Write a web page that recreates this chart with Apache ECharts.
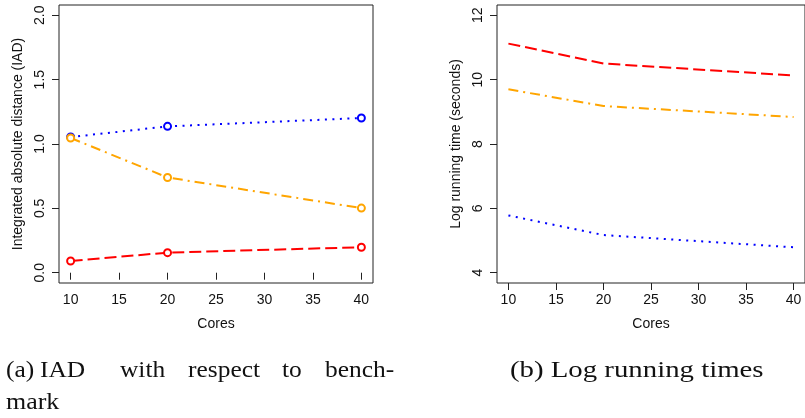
<!DOCTYPE html>
<html><head><meta charset="utf-8">
<script src="https://cdn.jsdelivr.net/npm/echarts@6/dist/echarts.min.js"></script>
<style>html,body{margin:0;padding:0;background:#fff}#c{width:805px;height:418px}</style>
</head><body><div id="c"></div>
<script>
const cores = [10, 20, 40];
const xTicks = [10, 15, 20, 25, 30, 35, 40];
const iadTicks = [0, 0.5, 1, 1.5, 2];
const logTicks = [4, 6, 8, 10, 12];
// Panel (a): IAD
const iadRed = [0.091, 0.156, 0.198];
const iadBlue = [1.054, 1.137, 1.202];
const iadOrange = [1.047, 0.740, 0.502];
// Panel (b): log running time
const timeRed = [11.12, 10.50, 10.13];
const timeBlue = [5.78, 5.17, 4.79];
const timeOrange = [9.70, 9.18, 8.84];
const captionA1 = ['(a)', 'IAD', 'with', 'respect', 'to', 'bench-'];
const captionA2 = 'mark';
const captionB = '(b) Log running times';

const RED = '#ff0000', BLUE = '#0000ff', ORANGE = '#ffa500';
const sans = 'Liberation Sans';
const pair = (xs, ys) => xs.map((x, i) => [x, ys[i]]);

function xAxisCfg(gi) {
  return {
    type: 'value', gridIndex: gi, min: 8.8, max: 41.2,
    axisLine: {show: false},
    axisTick: {show: true, length: 7, customValues: xTicks, lineStyle: {color: '#222'}},
    axisLabel: {customValues: xTicks, color: '#111', fontFamily: sans, fontSize: 14, margin: 10},
    splitLine: {show: false},
    name: 'Cores', nameLocation: 'middle', nameGap: 34,
    nameTextStyle: {color: '#111', fontFamily: sans, fontSize: 14}
  };
}
function yAxisCfg(gi, min, max, ticks, name, fmt) {
  return {
    type: 'value', gridIndex: gi, min: min, max: max,
    axisLine: {show: false},
    axisTick: {show: true, length: 7, customValues: ticks, lineStyle: {color: '#222'}},
    axisLabel: {customValues: ticks, rotate: 90, color: '#111', fontFamily: sans, fontSize: 14, margin: 12, formatter: fmt},
    splitLine: {show: false},
    name: name, nameLocation: 'middle', nameGap: 34, nameRotate: 90,
    nameTextStyle: {color: '#111', fontFamily: sans, fontSize: 14}
  };
}
function ser(gi, data, color, dash, sym) {
  return {
    type: 'line', xAxisIndex: gi, yAxisIndex: gi, data: data,
    symbol: sym ? 'emptyCircle' : 'none', symbolSize: 7,
    itemStyle: {color: color, borderWidth: 1.6},
    lineStyle: {color: color, width: 2, type: dash},
    animation: false, silent: true
  };
}
const DASH = [12, 5], DOT = [2, 5.5], DOTDASH = [10, 5, 2, 5];

const serifFont = '24px "Liberation Serif"';
const wordX = [6, 40, 120, 188, 282, 325];
const graphics = captionA1.map((w, i) => ({
  type: 'text', x: wordX[i], y: 359, scaleX: 1.06,
  style: {text: w, font: serifFont, fill: '#111'}
}));
graphics.push({type: 'text', x: 6, y: 391, scaleX: 1.08, style: {text: captionA2, font: serifFont, fill: '#111'}});
graphics.push({type: 'text', x: 510, y: 359, scaleX: 1.2, style: {text: captionB, font: serifFont, fill: '#111'}});

const chart = echarts.init(document.getElementById('c'), null, {renderer: 'canvas'});
chart.setOption({
  animation: false,
  grid: [
    {left: 59, top: 5, width: 314, height: 278, show: true, borderColor: '#222', borderWidth: 1, backgroundColor: 'transparent'},
    {left: 497, top: 5, width: 313, height: 278, show: true, borderColor: '#222', borderWidth: 1, backgroundColor: 'transparent'}
  ],
  xAxis: [xAxisCfg(0), xAxisCfg(1)],
  yAxis: [
    yAxisCfg(0, -0.08, 2.08, iadTicks, 'Integrated absolute distance (IAD)', v => v.toFixed(1)),
    yAxisCfg(1, 3.68, 12.32, logTicks, 'Log running time (seconds)', v => String(v))
  ],
  series: [
    ser(0, pair(cores, iadRed), RED, DASH, true),
    ser(0, pair(cores, iadBlue), BLUE, DOT, true),
    ser(0, pair(cores, iadOrange), ORANGE, DOTDASH, true),
    ser(1, pair(cores, timeRed), RED, DASH, false),
    ser(1, pair(cores, timeOrange), ORANGE, DOTDASH, false),
    ser(1, pair(cores, timeBlue), BLUE, DOT, false)
  ],
  graphic: graphics
});
</script></body></html>
